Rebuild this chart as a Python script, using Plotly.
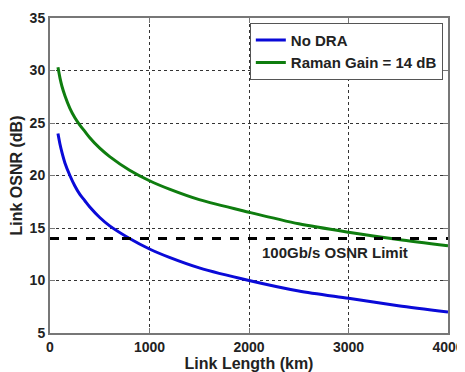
import plotly.graph_objects as go

length_km = [80, 100, 120, 150, 200, 250, 300, 350, 400, 500, 600, 800, 1000,
             1200, 1500, 2000, 2500, 3000, 3500, 4000]
osnr_no_dra = [24.0, 23.0, 22.2, 21.2, 20.0, 19.0, 18.2, 17.6, 17.0, 16.0,
               15.2, 14.0, 13.0, 12.2, 11.2, 10.0, 9.0, 8.3, 7.6, 7.0]
osnr_raman = [30.3, 29.3, 28.5, 27.6, 26.4, 25.5, 24.8, 24.2, 23.6, 22.6,
              21.8, 20.5, 19.5, 18.7, 17.7, 16.5, 15.4, 14.6, 13.9, 13.3]
limit_x = [0, 4000]
limit_y = [14, 14]
x_ticks = [0, 1000, 2000, 3000, 4000]
y_ticks = [5, 10, 15, 20, 25, 30, 35]

FONT = "Liberation Sans"

fig = go.Figure()
fig.add_trace(go.Scatter(x=length_km, y=osnr_no_dra, mode="lines", name="<b>No DRA</b>",
                         line=dict(color="#0a0ad8", width=3, shape="spline", smoothing=0.8)))
fig.add_trace(go.Scatter(x=length_km, y=osnr_raman, mode="lines", name="<b>Raman Gain = 14 dB</b>",
                         line=dict(color="#0f7d0f", width=3, shape="spline", smoothing=0.8)))
fig.add_trace(go.Scatter(x=limit_x, y=limit_y, mode="lines", showlegend=False,
                         line=dict(color="black", width=3, dash="dash")))

fig.add_annotation(x=2860, y=12.65, text="<b>100Gb/s OSNR Limit</b>", showarrow=False,
                   font=dict(family=FONT, size=15, color="#222"))

axis_common = dict(showgrid=True, gridcolor="#333", griddash="dot", gridwidth=1,
                   showline=True, linecolor="#777", linewidth=2, mirror="ticks",
                   ticks="inside", ticklen=5, tickcolor="#777", zeroline=False,
                   automargin=False,
                   tickfont=dict(family=FONT, size=14, color="#222", weight="bold"))

fig.update_xaxes(range=[0, 4000], tickvals=x_ticks, **axis_common,
                 title=dict(text="<b>Link Length (km)</b>", standoff=2,
                            font=dict(family=FONT, size=16, color="#222")))
fig.update_yaxes(range=[5, 35], tickvals=y_ticks, **axis_common,
                 title=dict(text="<b>Link OSNR (dB)</b>", standoff=6,
                            font=dict(family=FONT, size=16, color="#222")))

# page body has an 8px default margin, so the figure is 8px smaller and margins compensated
fig.update_layout(
    width=457, height=364,
    margin=dict(l=42, r=17, t=10, b=39),
    paper_bgcolor="white", plot_bgcolor="white",
    font=dict(family=FONT, color="#222"),
    legend=dict(x=0.987, y=0.985, xanchor="right", yanchor="top",
                bgcolor="white", bordercolor="#555", borderwidth=1,
                font=dict(family=FONT, size=15, color="#222"),
                tracegroupgap=0, itemwidth=30),
)

fig.write_html("out.html")
